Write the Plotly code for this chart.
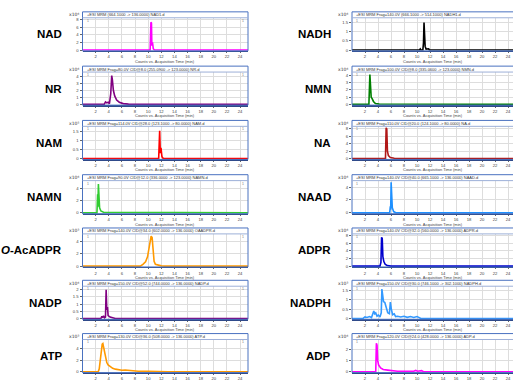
import plotly.graph_objects as go

W, H = 513, 381

# ---------------- data (time in min, counts in units of 10^exp) ----------------
names = ["NAD", "NADH", "NR", "NMN", "NAM", "NA", "NAMN", "NAAD",
         "<i>O</i>-AcADPR", "ADPR", "NADP", "NADPH", "ATP", "ADP"]

headers = [
    "+ESI MRM (664.1000 -> 136.0000) NAD1.d",
    "+ESI MRM Frag=140.0V (666.1000 -> 514.1000) NADH1.d",
    "+ESI MRM Frag=80.0V CID@8.0 (255.0900 -> 123.0000) NR.d",
    "+ESI MRM Frag=100.0V CID@8.0 (335.0600 -> 123.0000) NMN.d",
    "+ESI MRM Frag=114.0V CID@28.0 (123.1000 -> 80.0000) NAM.d",
    "+ESI MRM Frag=110.0V CID@20.0 (124.1000 -> 80.0000) NA.d",
    "+ESI MRM Frag=90.0V CID@12.0 (336.0000 -> 123.0000) NAMN.d",
    "+ESI MRM Frag=140.0V CID@40.0 (665.1000 -> 136.0000) NAAD.d",
    "+ESI MRM Frag=140.0V CID@34.0 (602.0000 -> 136.0000) OAADPR.d",
    "+ESI MRM Frag=140.0V CID@32.0 (560.0000 -> 136.0000) ADPR.d",
    "+ESI MRM Frag=150.0V CID@52.0 (744.0000 -> 136.0000) NADP.d",
    "+ESI MRM Frag=150.0V CID@30.0 (746.1000 -> 302.1000) NADPH.d",
    "+ESI MRM Frag=130.0V CID@36.0 (508.0000 -> 136.0000) ATP.d",
    "+ESI MRM Frag=120.0V CID@24.0 (428.0000 -> 136.0000) ADP.d",
]

exponent_labels = ["x10⁴", "x10⁴", "x10⁴", "x10⁴", "x10⁵", "x10⁴", "x10⁴",
                   "x10⁴", "x10³", "x10⁴", "x10⁴", "x10³", "x10³", "x10⁴"]

y_ticks = [
    [0, 2, 4, 6, 8], [0, 0.5, 1, 1.5], [0, 1, 2, 3, 4], [0, 1, 2, 3, 4],
    [0, 0.5, 1, 1.5], [0, 2, 4, 6, 8], [0, 2, 4], [0, 2, 4],
    [0, 2, 4], [0, 2, 4, 6, 8], [0, 0.5, 1, 1.5, 2], [0, 0.5, 1, 1.5],
    [0, 2, 4], [0, 1, 2],
]

x_ticks = [2, 4, 6, 8, 10, 12, 14, 16, 18, 20, 22, 24]

nad_t = [0, 10.3, 10.42, 10.5, 10.56, 10.66, 10.78, 11.0, 25.2]
nad_y = [0, 0, 7.3, 7.1, 1.2, 2.0, 0.3, 0, 0]

nadh_t = [0, 10.4, 10.5, 10.6, 10.9, 11.0, 11.08, 11.16, 11.25, 11.4, 11.7, 11.8, 11.9, 25.2]
nadh_y = [0, 0, 0.06, 0, 0, 0.4, 1.52, 1.0, 0.2, 0.05, 0.04, 0.07, 0, 0]

nr_t = [0, 3.3, 3.5, 3.7, 3.9, 4.1, 4.3, 4.45, 4.55, 4.7, 4.9, 5.2, 5.6, 6.2, 7.0,
        8.0, 8.2, 10.0, 10.2, 12.0, 12.2, 16.0, 16.3, 17.5, 17.8, 25.2]
nr_y = [0, 0, 0.35, 0.2, 0.3, 0.1, 1.5, 4.1, 3.5, 2.0, 1.2, 0.6, 0.3, 0.1, 0.02,
        0.02, 0.06, 0.02, 0.06, 0.02, 0.06, 0.02, 0.07, 0.02, 0.06, 0]

nmn_t = [0, 2.6, 2.75, 2.85, 2.95, 3.1, 3.3, 3.6, 4.2, 25.2]
nmn_y = [0, 0, 4.15, 3.0, 1.0, 0.8, 0.4, 0.1, 0.05, 0]

nam_t = [0, 11.6, 11.75, 11.85, 11.95, 12.1, 12.3, 25.2]
nam_y = [0, 0, 1.55, 0.3, 0.6, 0.1, 0, 0]

na_t = [0, 5.15, 5.25, 5.35, 5.45, 5.6, 5.9, 6.5, 25.2]
na_y = [0, 0, 8.2, 7.9, 2.0, 0.8, 0.3, 0.1, 0]

namn_t = [0, 2.2, 2.3, 2.35, 2.42, 2.5, 2.6, 2.8, 3.2, 25.2]
namn_y = [0, 0, 3.0, 1.0, 4.65, 3.5, 0.8, 0.3, 0.1, 0]

naad_t = [0, 5.8, 5.9, 5.95, 6.02, 6.1, 6.2, 6.4, 6.8, 25.2]
naad_y = [0, 0, 1.0, 0.5, 4.75, 3.5, 0.8, 0.2, 0, 0]

oaadpr_t = [0, 8.8, 9.2, 9.6, 9.9, 10.1, 10.3, 10.45, 10.6, 10.75, 10.9, 11.1, 11.5, 12.0, 12.5, 25.2]
oaadpr_y = [0, 0, 0.3, 0.7, 1.5, 3.0, 4.5, 4.85, 4.6, 2.5, 0.8, 0.3, 0.15, 0.05, 0, 0]

adpr_t = [0, 4.3, 4.45, 4.55, 4.65, 4.75, 4.9, 5.1, 5.4, 6.0, 25.2]
adpr_y = [0, 0, 1.0, 7.6, 7.3, 2.5, 1.2, 0.5, 0.15, 0, 0]

nadp_t = [0, 2.8, 2.95, 3.05, 3.2, 3.35, 3.5, 3.6, 3.7, 3.8, 3.9, 4.2, 4.6, 5.0, 25.2]
nadp_y = [0, 0, 0.15, 0.05, 0.18, 0.05, 0.1, 2.0, 0.6, 0.8, 0.2, 0.1, 0.05, 0, 0]

nadph_t = [0, 1.7, 2.0, 2.3, 2.7, 3.0, 3.35, 3.5, 3.65, 3.85, 4.05, 4.3, 4.5, 4.6, 4.7,
           4.85, 5.05, 5.25, 5.5, 5.75, 5.9, 6.05, 6.25, 6.5, 6.7, 7.0, 7.5, 8.0,
           8.5, 9.0, 9.5, 10.0, 10.3, 10.6, 25.2]
nadph_y = [0, 0, 0.08, 0.05, 0.1, 0.05, 0.4, 0.25, 0.3, 0.12, 0.18, 0.08, 0.3, 1.57, 1.3,
           0.9, 0.85, 0.6, 0.3, 0.25, 0.87, 0.5, 0.2, 0.25, 0.1, 0.12, 0.08, 0.12,
           0.06, 0.1, 0.05, 0.1, 0.05, 0, 0]

atp_t = [0, 2.4, 2.55, 2.7, 2.85, 3.0, 3.1, 3.2, 3.35, 3.5, 3.7, 3.9, 4.2, 4.6, 5.0, 5.5,
         6.0, 6.5, 6.8, 7.2, 7.6, 8.5, 10.0, 12.0, 13.0, 25.2]
atp_y = [0, 0, 0.5, 2.0, 3.8, 4.8, 4.9, 4.3, 3.0, 2.2, 1.6, 1.2, 0.9, 0.6, 0.45, 0.3,
         0.25, 0.3, 0.25, 0.3, 0.15, 0.1, 0.08, 0.05, 0, 0]

adp_t = [0, 3.65, 3.75, 3.85, 3.95, 4.1, 4.4, 4.8, 5.5, 6.3, 7.0, 9.5, 9.8, 10.1, 10.7, 11.0, 25.2]
adp_y = [0, 0, 2.55, 2.4, 1.0, 0.6, 0.35, 0.2, 0.15, 0.1, 0.05, 0.05, 0.12, 0.05, 0.1, 0, 0]

series_t = [nad_t, nadh_t, nr_t, nmn_t, nam_t, na_t, namn_t, naad_t,
            oaadpr_t, adpr_t, nadp_t, nadph_t, atp_t, adp_t]
series_y = [nad_y, nadh_y, nr_y, nmn_y, nam_y, na_y, namn_y, naad_y,
            oaadpr_y, adpr_y, nadp_y, nadph_y, atp_y, adp_y]

# ---------------- styles / layout ----------------
colors = ["#FF00FF", "#000000", "#800080", "#008000", "#FF0000", "#B01818", "#33CC33", "#1E90FF",
          "#FF9900", "#0000CD", "#800080", "#3399FF", "#FF9900", "#FF00FF"]
y_max = [8.5, 1.78, 4.6, 4.5, 1.79, 8.6, 5.2, 5.0, 5.2, 8.5, 2.25, 1.72, 5.6, 2.9]

row_top = [11, 66, 121, 176, 230, 283, 337]
col_left = [82.5, 352.0]
col_right = [248.0, 514.0]
label_right = [64, 333]
HDR = 6.0
BODY = 39.5

def py(px):
    return 1 - px / H

def pxx(px):
    return px / W

fig = go.Figure()
shapes = []
annotations = []
lay = {}

for i in range(14):
    r, c = divmod(i, 2)
    T = row_top[r]
    x0, x1 = col_left[c], col_right[c]
    top, bot = T + HDR, T + BODY
    ax = "" if i == 0 else str(i + 1)
    ymax = y_max[i]
    ymin = -0.025 * ymax

    fig.add_trace(go.Scatter(
        x=series_t[i], y=series_y[i], mode="lines",
        line=dict(color=colors[i], width=1.6),
        xaxis="x" + ax, yaxis="y" + ax, showlegend=False, hoverinfo="skip"))

    lay["xaxis" + ax] = dict(
        domain=[pxx(x0), min(1.0, pxx(x1))], anchor="y" + ax,
        range=[0, 25.2 if c == 0 else (513 - 352) / 6.5],
        tickvals=x_ticks, ticktext=[str(v) for v in x_ticks],
        tickfont=dict(size=4.2, color="#444444", family="Liberation Sans"),
        ticks="outside", ticklen=1, tickcolor="#666666",
        showgrid=True, gridcolor="#DDDDDD", gridwidth=1, zeroline=False,
        showline=True, linecolor="#2F4A8A", linewidth=1.5, fixedrange=True)
    yt = y_ticks[i]
    lay["yaxis" + ax] = dict(
        domain=[py(bot), py(top)], anchor="x" + ax,
        range=[ymin, ymax], tickvals=yt, ticktext=["{:g}".format(v) for v in yt],
        tickfont=dict(size=4.2, color="#444444", family="Liberation Sans"),
        ticks="outside", ticklen=2, tickcolor="#666666",
        showgrid=True, gridcolor="#DDDDDD", gridwidth=1, zeroline=False,
        showline=False, fixedrange=True)

    # outer box and header
    shapes.append(dict(type="rect", xref="paper", yref="paper",
                       x0=pxx(x0), x1=pxx(x1), y0=py(bot), y1=py(T),
                       line=dict(color="#4A72C0", width=1), fillcolor="rgba(0,0,0,0)", layer="above"))
    shapes.append(dict(type="line", xref="paper", yref="paper",
                       x0=pxx(x0), x1=pxx(x1), y0=py(top), y1=py(top),
                       line=dict(color="#9DB0D8", width=1), layer="above"))
    annotations.append(dict(xref="paper", yref="paper", x=pxx(x0 + 2), y=py(T + HDR / 2),
                            text=headers[i], showarrow=False, xanchor="left", yanchor="middle",
                            font=dict(size=4, color="#333333", family="Liberation Sans")))
    annotations.append(dict(xref="paper", yref="paper", x=pxx(x0 - 2), y=py(T + HDR / 2),
                            text=exponent_labels[i], showarrow=False,
                            xanchor="right", yanchor="middle",
                            font=dict(size=4.5, color="#333333", family="DejaVu Sans")))
    annotations.append(dict(xref="paper", yref="paper", x=pxx(x0 + 2), y=py(top + 3),
                            text="1", showarrow=False, xanchor="left", yanchor="middle",
                            font=dict(size=3.5, color="#777777", family="Liberation Sans")))
    if c == 0:
        annotations.append(dict(xref="paper", yref="paper", x=pxx(x1 - 2), y=py(top + 3),
                                text="1", showarrow=False, xanchor="right", yanchor="middle",
                                font=dict(size=3.5, color="#777777", family="Liberation Sans")))
    if r < 6:
        annotations.append(dict(xref="paper", yref="paper", x=pxx((x0 + min(x1, 513)) / 2),
                                y=py(bot + 10.5),
                                text="Counts vs. Acquisition Time (min)", showarrow=False,
                                xanchor="center", yanchor="middle",
                                font=dict(size=4, color="#444444", family="Liberation Sans")))
    annotations.append(dict(xref="paper", yref="paper", x=pxx(label_right[c]), y=py((top + bot) / 2),
                            text="<b>" + names[i] + "</b>", showarrow=False,
                            xanchor="right", yanchor="middle",
                            font=dict(size=11.5, color="#000000", family="Liberation Sans")))

fig.update_layout(width=W, height=H, margin=dict(l=0, r=0, t=0, b=0),
                  paper_bgcolor="white", plot_bgcolor="white",
                  shapes=shapes, annotations=annotations, **lay)

fig.write_html("out.html", config={"displayModeBar": False, "staticPlot": True},
               post_script="document.body.style.margin='0px';document.body.style.overflow='hidden';")
